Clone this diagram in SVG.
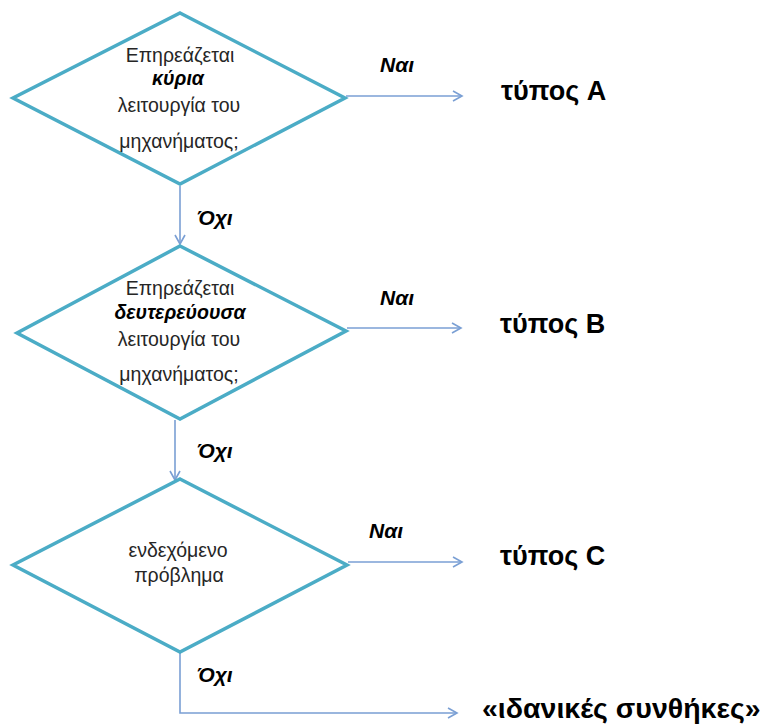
<svg xmlns="http://www.w3.org/2000/svg" width="766" height="724" viewBox="0 0 766 724">
  <style>
    .dia { fill: #ffffff; stroke: #4bacc6; stroke-width: 3.5; stroke-linejoin: miter; }
    .q { font-family: "Liberation Sans", Arial, sans-serif; font-size: 19.5px; fill: #262626; text-anchor: middle; }
    .qb { font-weight: bold; font-style: italic; fill: #000; }
    .lbl { font-family: "Liberation Sans", Arial, sans-serif; font-size: 21px; font-weight: bold; font-style: italic; fill: #000; }
    .out { font-family: "Liberation Sans", Arial, sans-serif; font-size: 27px; font-weight: bold; fill: #000; }
    .conn { fill: none; stroke: #7a9fd4; stroke-width: 1.6; marker-end: url(#arrow); }
  </style>
  <defs>
    <marker id="arrow" markerWidth="12" markerHeight="12" refX="10" refY="6" orient="auto" markerUnits="userSpaceOnUse">
      <path d="M1,1 L10,6 L1,11" fill="none" stroke="#7a9fd4" stroke-width="1.6"/>
    </marker>
  </defs>
  <rect width="766" height="724" fill="#ffffff"/>

  <!-- connectors -->
  <g id="connectors">
    <line class="conn" x1="346" y1="96" x2="462" y2="96"/>
    <line class="conn" x1="180" y1="186" x2="180" y2="244"/>
    <line class="conn" x1="347" y1="328" x2="461" y2="328"/>
    <line class="conn" x1="175" y1="420" x2="175" y2="480"/>
    <line class="conn" x1="348" y1="562" x2="462" y2="562"/>
    <polyline class="conn" points="180,652 180,713 457,713"/>
    <text class="lbl" x="380" y="72">Ναι</text>
    <text class="lbl" x="197" y="225">Όχι</text>
    <text class="lbl" x="380" y="305">Ναι</text>
    <text class="lbl" x="197" y="458">Όχι</text>
    <text class="lbl" x="369" y="538">Ναι</text>
    <text class="lbl" x="197" y="682">Όχι</text>
  </g>

  <!-- decision 1 -->
  <g id="decision-main">
    <polygon class="dia" points="180,13 345,98 180,184 13,98"/>
    <text class="q" x="180" y="62">Επηρεάζεται</text>
    <text class="q qb" x="178" y="85">κύρια</text>
    <text class="q" x="179" y="112">λειτουργία του</text>
    <text class="q" x="179" y="148">μηχανήματος;</text>
  </g>

  <!-- decision 2 -->
  <g id="decision-secondary">
    <polygon class="dia" points="180,246 346,331 180,419 17,333"/>
    <text class="q" x="180" y="295">Επηρεάζεται</text>
    <text class="q qb" x="180" y="319">δευτερεύουσα</text>
    <text class="q" x="179" y="346">λειτουργία του</text>
    <text class="q" x="179" y="381">μηχανήματος;</text>
  </g>

  <!-- decision 3 -->
  <g id="decision-problem">
    <polygon class="dia" points="180,479 347,565 180,652 13,565"/>
    <text class="q" x="178" y="557">ενδεχόμενο</text>
    <text class="q" x="179" y="582">πρόβλημα</text>
  </g>

  <!-- outcomes -->
  <g id="type-a"><text class="out" x="501" y="100">τύπος A</text></g>
  <g id="type-b"><text class="out" x="500" y="333">τύπος B</text></g>
  <g id="type-c"><text class="out" x="500" y="565">τύπος C</text></g>
  <g id="ideal"><text class="out" x="482" y="718" style="font-size:28.5px">«ιδανικές συνθήκες»</text></g>
</svg>
